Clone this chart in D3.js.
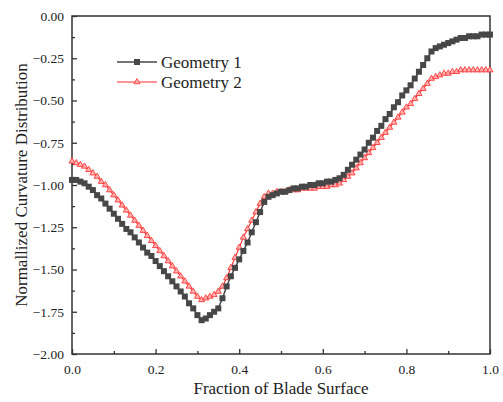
<!DOCTYPE html>
<html>
<head>
<meta charset="utf-8">
<script src="https://cdn.jsdelivr.net/npm/d3@7"></script>
<style>
  body { margin: 0; background: #fff; }
  svg text { font-family: "Liberation Serif", "Times New Roman", serif; fill: #222; }
</style>
</head>
<body>
<div id="chart"></div>
<script>
// fraction of blade surface, 0.00 .. 1.00 in steps of 0.01
var fraction = d3.range(0, 101).map(function (i) { return i / 100; });

// Geometry 1
var geometry1 = [
  -0.97, -0.97, -0.98, -0.99, -1.01, -1.03, -1.06, -1.08, -1.11, -1.14,
  -1.17, -1.20, -1.23, -1.26, -1.28, -1.31, -1.34, -1.37, -1.40, -1.42,
  -1.45, -1.48, -1.51, -1.54, -1.57, -1.60, -1.63, -1.66, -1.70, -1.73,
  -1.77, -1.80, -1.79, -1.77, -1.75, -1.73, -1.67, -1.60, -1.54, -1.49,
  -1.44, -1.39, -1.34, -1.28, -1.22, -1.16, -1.10, -1.07, -1.06, -1.05,
  -1.04, -1.04, -1.03, -1.02, -1.02, -1.01, -1.01, -1.00, -1.00, -0.99,
  -0.99, -0.98, -0.98, -0.97, -0.96, -0.94, -0.91, -0.88, -0.85, -0.82,
  -0.79, -0.75, -0.72, -0.68, -0.65, -0.61, -0.58, -0.54, -0.51, -0.47,
  -0.44, -0.41, -0.37, -0.33, -0.29, -0.25, -0.21, -0.19, -0.18, -0.17,
  -0.16, -0.15, -0.14, -0.13, -0.13, -0.12, -0.12, -0.12, -0.11, -0.11,
  -0.11
];

// Geometry 2
var geometry2 = [
  -0.86, -0.87, -0.88, -0.89, -0.91, -0.93, -0.95, -0.98, -1.00, -1.03,
  -1.06, -1.09, -1.12, -1.15, -1.18, -1.21, -1.24, -1.27, -1.30, -1.33,
  -1.36, -1.39, -1.42, -1.45, -1.48, -1.51, -1.54, -1.57, -1.60, -1.63,
  -1.66, -1.68, -1.67, -1.66, -1.65, -1.63, -1.60, -1.55, -1.49, -1.43,
  -1.37, -1.31, -1.26, -1.21, -1.16, -1.11, -1.07, -1.05, -1.05, -1.04,
  -1.04, -1.04, -1.03, -1.03, -1.03, -1.02, -1.02, -1.02, -1.02, -1.01,
  -1.01, -1.01, -1.00, -1.00, -0.99, -0.97, -0.95, -0.93, -0.90, -0.87,
  -0.84, -0.81, -0.78, -0.75, -0.72, -0.69, -0.66, -0.63, -0.60, -0.57,
  -0.54, -0.52, -0.49, -0.46, -0.43, -0.40, -0.37, -0.36, -0.35, -0.34,
  -0.34, -0.33, -0.33, -0.32, -0.32, -0.32, -0.32, -0.32, -0.32, -0.32,
  -0.32
];

var seriesNames = ["Geometry 1", "Geometry 2"];
var xTicks = [0, 0.2, 0.4, 0.6, 0.8, 1.0];
var yTicks = [0, -0.25, -0.5, -0.75, -1.0, -1.25, -1.5, -1.75, -2.0];

var width = 503, height = 402;
var margin = { top: 16, right: 13, bottom: 48, left: 72 };

var svg = d3.select("#chart").append("svg")
  .attr("width", width)
  .attr("height", height);

var x = d3.scaleLinear().domain([0, 1]).range([margin.left, width - margin.right]);
var y = d3.scaleLinear().domain([-2, 0]).range([height - margin.bottom, margin.top]);

var axisColor = "#333";

// minor ticks first, then major ones on top
var xMinor = d3.axisBottom(x).tickValues(d3.range(0.1, 1, 0.2)).tickSize(-3).tickFormat("");
var yMinor = d3.axisLeft(y).tickValues(d3.range(-1.875, 0, 0.25)).tickSize(-3).tickFormat("");

svg.append("g").attr("transform", "translate(0," + y(-2) + ")").call(xMinor);
svg.append("g").attr("transform", "translate(" + x(0) + ",0)").call(yMinor);

var xAxis = svg.append("g")
  .attr("transform", "translate(0," + y(-2) + ")")
  .call(d3.axisBottom(x).tickValues(xTicks).tickSize(-5).tickPadding(10).tickFormat(d3.format(".1f")));

var yAxis = svg.append("g")
  .attr("transform", "translate(" + x(0) + ",0)")
  .call(d3.axisLeft(y).tickValues(yTicks).tickSize(-5).tickPadding(8).tickFormat(d3.format(".2f")));

svg.selectAll(".domain").remove();
svg.selectAll(".tick line").attr("stroke", axisColor).attr("stroke-width", 1.3);
svg.selectAll(".tick text").style("font-size", "13.5px")
  .style("font-family", "'Liberation Serif', serif").attr("fill", "#222");

// frame
svg.append("rect")
  .attr("x", x(0)).attr("y", y(0))
  .attr("width", x(1) - x(0)).attr("height", y(-2) - y(0))
  .attr("fill", "none").attr("stroke", axisColor).attr("stroke-width", 1.5);

var line = d3.line()
  .x(function (d, i) { return x(fraction[i]); })
  .y(function (d) { return y(d); });

var black = "#474747", red = "#ff2a2a";

// Geometry 2
svg.append("path").datum(geometry2)
  .attr("d", line).attr("fill", "none").attr("stroke", red).attr("stroke-width", 1.1);

var tri = d3.symbol().type(d3.symbolTriangle).size(16);
svg.selectAll(".g2").data(geometry2).enter().append("path")
  .attr("class", "g2")
  .attr("d", tri)
  .attr("transform", function (d, i) { return "translate(" + x(fraction[i]) + "," + y(d) + ")"; })
  .attr("fill", "#ffb0b0").attr("stroke", red).attr("stroke-width", 0.8);

// Geometry 1
svg.append("path").datum(geometry1)
  .attr("d", line).attr("fill", "none").attr("stroke", black).attr("stroke-width", 1.5);

svg.selectAll(".g1").data(geometry1).enter().append("rect")
  .attr("class", "g1")
  .attr("x", function (d, i) { return x(fraction[i]) - 3; })
  .attr("y", function (d) { return y(d) - 3; })
  .attr("width", 6).attr("height", 6)
  .attr("fill", black);

// legend
var legend = svg.append("g").attr("transform", "translate(117,62)");
legend.append("line").attr("x1", 0).attr("x2", 40).attr("y1", 0).attr("y2", 0)
  .attr("stroke", black).attr("stroke-width", 1.5);
legend.append("rect").attr("x", 17).attr("y", -3).attr("width", 6).attr("height", 6).attr("fill", black);
legend.append("line").attr("x1", 0).attr("x2", 40).attr("y1", 20).attr("y2", 20)
  .attr("stroke", red).attr("stroke-width", 1.1);
legend.append("path").attr("d", tri).attr("transform", "translate(20,20)")
  .attr("fill", "#ffb0b0").attr("stroke", red).attr("stroke-width", 0.8);
legend.selectAll("text").data(seriesNames).enter().append("text")
  .attr("x", 44).attr("y", function (d, i) { return i * 20 + 6; })
  .style("font-size", "17px")
  .text(function (d) { return d; });

// axis titles
svg.append("text")
  .attr("x", (x(0) + x(1)) / 2).attr("y", 394)
  .attr("text-anchor", "middle").style("font-size", "17px")
  .text("Fraction of Blade Surface");

svg.append("text")
  .attr("transform", "translate(27," + ((y(0) + y(-2)) / 2) + ") rotate(-90)")
  .attr("text-anchor", "middle").style("font-size", "17px")
  .text("Normallized Curvature Distribution");
</script>
</body>
</html>
